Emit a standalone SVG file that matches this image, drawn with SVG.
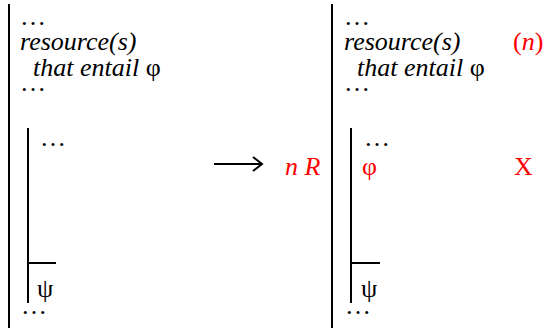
<svg xmlns="http://www.w3.org/2000/svg" width="544" height="328" viewBox="0 0 544 328">
<style>
.ln{stroke:#000;stroke-width:2;fill:none}
</style>
<rect width="544" height="328" fill="#fff"/>
<g id="left-proof" font-family="Liberation Serif, serif" font-size="26" fill="#000">
<line class="ln" x1="9" y1="4" x2="9" y2="328"/>
<text style="font-family:'Liberation Serif',serif !important" x="20" y="25">…</text>
<text style="font-family:'Liberation Serif',serif !important" font-style="italic" x="20" y="50">resource(s)</text>
<text style="font-family:'Liberation Serif',serif !important" x="33" y="76"><tspan font-style="italic">that entail </tspan>φ</text>
<text style="font-family:'Liberation Serif',serif !important" x="20" y="91">…</text>
<line class="ln" x1="28" y1="128" x2="28" y2="303"/>
<text style="font-family:'Liberation Serif',serif !important" x="40" y="146">…</text>
<line class="ln" x1="28" y1="263" x2="56" y2="263"/>
<text style="font-family:'Liberation Serif',serif !important" x="37" y="297">ψ</text>
<text style="font-family:'Liberation Serif',serif !important" x="21" y="314">…</text>
</g>
<g id="connectors">
<line class="ln" x1="214" y1="164" x2="261" y2="164"/>
<path class="ln" d="M253,157 L262,164 L253,171"/>
</g>
<g id="rule-label" font-family="Liberation Serif, serif" font-size="26" fill="#f00">
<text style="font-family:'Liberation Serif',serif !important" font-style="italic" x="285" y="175">n R</text>
</g>
<g id="right-proof" font-family="Liberation Serif, serif" font-size="26" fill="#000">
<line class="ln" x1="332" y1="4" x2="332" y2="328"/>
<text style="font-family:'Liberation Serif',serif !important" x="344" y="25">…</text>
<text style="font-family:'Liberation Serif',serif !important" font-style="italic" x="344" y="50">resource(s)</text>
<text style="font-family:'Liberation Serif',serif !important" x="357" y="76"><tspan font-style="italic">that entail </tspan>φ</text>
<text style="font-family:'Liberation Serif',serif !important" x="344" y="91">…</text>
<text style="font-family:'Liberation Serif',serif !important" fill="#f00" x="513" y="50">(<tspan font-style="italic">n</tspan>)</text>
<line class="ln" x1="351" y1="128" x2="351" y2="303"/>
<text style="font-family:'Liberation Serif',serif !important" x="364" y="146">…</text>
<text style="font-family:'Liberation Serif',serif !important" fill="#f00" x="362" y="175">φ</text>
<text style="font-family:'Liberation Serif',serif !important" fill="#f00" x="514" y="175">X</text>
<line class="ln" x1="351" y1="263" x2="380" y2="263"/>
<text style="font-family:'Liberation Serif',serif !important" x="361" y="297">ψ</text>
<text style="font-family:'Liberation Serif',serif !important" x="345" y="314">…</text>
</g>
</svg>
